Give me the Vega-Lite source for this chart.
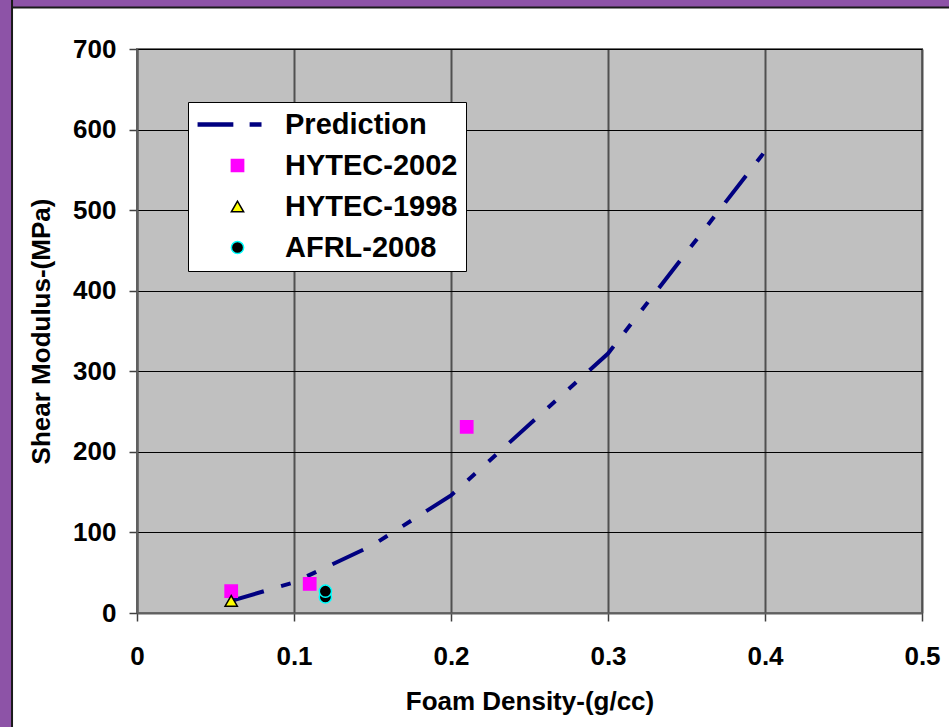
{
  "$schema": "https://vega.github.io/schema/vega-lite/v6.json",
  "width": 785,
  "height": 564,
  "autosize": {"type": "none"},
  "padding": {"left": 137, "top": 49, "right": 27, "bottom": 114},
  "background": "#FFFFFF",
  "datasets": {
    "pred": [
      {"density": 0.06, "modulus": 15, "series": "Prediction"},
      {"density": 0.1, "modulus": 38, "series": "Prediction"},
      {"density": 0.15, "modulus": 84, "series": "Prediction"},
      {"density": 0.2, "modulus": 146, "series": "Prediction"},
      {"density": 0.3, "modulus": 322, "series": "Prediction"},
      {"density": 0.4, "modulus": 573, "series": "Prediction"}
    ],
    "obs": [
      {"density": 0.06, "modulus": 27, "series": "HYTEC-2002"},
      {"density": 0.11, "modulus": 36, "series": "HYTEC-2002"},
      {"density": 0.21, "modulus": 231, "series": "HYTEC-2002"},
      {"density": 0.06, "modulus": 15, "series": "HYTEC-1998"},
      {"density": 0.12, "modulus": 20, "series": "AFRL-2008"},
      {"density": 0.12, "modulus": 27, "series": "AFRL-2008"}
    ]
  },
  "config": {
    "font": "Liberation Sans",
    "view": {"fill": "#C0C0C0", "stroke": "#707070", "strokeWidth": 2},
    "axis": {
      "labelFont": "Liberation Sans",
      "labelFontSize": 26,
      "labelFontWeight": "bold",
      "labelColor": "#000000",
      "titleFont": "Liberation Sans",
      "titleFontSize": 26,
      "titleFontWeight": "bold",
      "titleColor": "#000000",
      "domainColor": "#606060",
      "domainWidth": 2,
      "tickColor": "#404040",
      "tickWidth": 1.5,
      "tickSize": 8
    },
    "legend": {
      "orient": "none",
      "legendX": 51,
      "legendY": 53,
      "fillColor": "#FFFFFF",
      "strokeColor": "#000000",
      "padding": 8,
      "labelFont": "Liberation Sans",
      "labelFontSize": 29,
      "labelFontWeight": "bold",
      "labelColor": "#000000",
      "labelLimit": 400,
      "rowPadding": 11,
      "symbolOffset": 27,
      "labelOffset": 33,
      "symbolStrokeWidth": 1.5
    }
  },
  "layer": [
    {
      "data": {"name": "pred"},
      "mark": {"type": "line", "strokeWidth": 4, "strokeDash": [34, 18, 10, 18, 10, 18], "strokeCap": "butt"},
      "encoding": {
        "x": {
          "field": "density", "type": "quantitative",
          "scale": {"domain": [0, 0.5], "nice": false, "zero": false},
          "axis": {"title": "Foam Density-(g/cc)", "values": [0, 0.1, 0.2, 0.3, 0.4, 0.5], "format": "~g", "grid": true, "gridColor": "#505050", "gridWidth": 2, "labelPadding": 22, "titlePadding": 19, "labelFlush": false}
        },
        "y": {
          "field": "modulus", "type": "quantitative",
          "scale": {"domain": [0, 700], "nice": false, "zero": false},
          "axis": {"title": "Shear Modulus-(MPa)", "values": [0, 100, 200, 300, 400, 500, 600, 700], "format": "d", "grid": true, "gridColor": "#000000", "gridWidth": 1, "labelPadding": 13, "titlePadding": 18}
        },
        "stroke": {
          "field": "series", "type": "nominal",
          "scale": {"domain": ["Prediction", "HYTEC-2002", "HYTEC-1998", "AFRL-2008"], "range": ["#000080", "#FF00FF", "#000000", "#00FFFF"]},
          "legend": {"title": null, "encode": {"symbols": {"update": {"strokeDash": {"value": []}, "strokeWidth": {"value": 1.5}, "opacity": {"value": 1}}}}}
        }
      }
    },
    {
      "data": {"name": "obs"},
      "mark": {"type": "point", "filled": true, "opacity": 1, "strokeWidth": 1.5},
      "encoding": {
        "x": {
          "field": "density", "type": "quantitative",
          "scale": {"domain": [0, 0.5], "nice": false, "zero": false},
          "axis": {"title": "Foam Density-(g/cc)", "values": [0, 0.1, 0.2, 0.3, 0.4, 0.5], "format": "~g", "grid": true, "gridColor": "#505050", "gridWidth": 2, "labelPadding": 22, "titlePadding": 19, "labelFlush": false}
        },
        "y": {
          "field": "modulus", "type": "quantitative",
          "scale": {"domain": [0, 700], "nice": false, "zero": false},
          "axis": {"title": "Shear Modulus-(MPa)", "values": [0, 100, 200, 300, 400, 500, 600, 700], "format": "d", "grid": true, "gridColor": "#000000", "gridWidth": 1, "labelPadding": 13, "titlePadding": 18}
        },
        "fill": {
          "field": "series", "type": "nominal",
          "scale": {"domain": ["Prediction", "HYTEC-2002", "HYTEC-1998", "AFRL-2008"], "range": ["#000080", "#FF00FF", "#FFFF00", "#000000"]},
          "legend": {"title": null}
        },
        "stroke": {
          "field": "series", "type": "nominal",
          "scale": {"domain": ["Prediction", "HYTEC-2002", "HYTEC-1998", "AFRL-2008"], "range": ["#000080", "#FF00FF", "#000000", "#00FFFF"]},
          "legend": {"title": null, "encode": {"symbols": {"update": {"strokeDash": {"value": []}, "strokeWidth": {"value": 1.5}, "opacity": {"value": 1}}}}}
        },
        "shape": {
          "field": "series", "type": "nominal",
          "scale": {"domain": ["Prediction", "HYTEC-2002", "HYTEC-1998", "AFRL-2008"], "range": ["M-6.4,-0.25H-0.8V0.25H-6.4Z M2.1,-0.25H3.8V0.25H2.1Z", "square", "triangle-up", "circle"]},
          "legend": {"title": null}
        },
        "size": {
          "field": "series", "type": "nominal",
          "scale": {"domain": ["Prediction", "HYTEC-2002", "HYTEC-1998", "AFRL-2008"], "range": [150, 150, 170, 80]},
          "legend": {"title": null}
        }
      }
    },
    {
      "data": {"values": [{}]},
      "mark": {"type": "rect", "fill": "#8D53A7", "stroke": "#1A1A1A", "strokeWidth": 2, "clip": false},
      "encoding": {
        "x": {"datum": -0.3, "type": "quantitative", "scale": {"domain": [0, 0.5], "nice": false, "zero": false}, "axis": {"title": "Foam Density-(g/cc)", "values": [0, 0.1, 0.2, 0.3, 0.4, 0.5], "format": "~g", "grid": true, "gridColor": "#505050", "gridWidth": 2, "labelPadding": 22, "titlePadding": 19, "labelFlush": false}},
        "x2": {"datum": 0.8},
        "y": {"datum": 751.5, "type": "quantitative", "scale": {"domain": [0, 700], "nice": false, "zero": false}, "axis": {"title": "Shear Modulus-(MPa)", "values": [0, 100, 200, 300, 400, 500, 600, 700], "format": "d", "grid": true, "gridColor": "#000000", "gridWidth": 1, "labelPadding": 13, "titlePadding": 18}},
        "y2": {"datum": 1100}
      }
    },
    {
      "data": {"values": [{}]},
      "mark": {"type": "rect", "fill": "#8D53A7", "stroke": "#1A1A1A", "strokeWidth": 2, "clip": false},
      "encoding": {
        "x": {"datum": -0.5, "type": "quantitative", "scale": {"domain": [0, 0.5], "nice": false, "zero": false}, "axis": {"title": "Foam Density-(g/cc)", "values": [0, 0.1, 0.2, 0.3, 0.4, 0.5], "format": "~g", "grid": true, "gridColor": "#505050", "gridWidth": 2, "labelPadding": 22, "titlePadding": 19, "labelFlush": false}},
        "x2": {"datum": -0.0796},
        "y": {"datum": -400, "type": "quantitative", "scale": {"domain": [0, 700], "nice": false, "zero": false}, "axis": {"title": "Shear Modulus-(MPa)", "values": [0, 100, 200, 300, 400, 500, 600, 700], "format": "d", "grid": true, "gridColor": "#000000", "gridWidth": 1, "labelPadding": 13, "titlePadding": 18}},
        "y2": {"datum": 1100}
      }
    }
  ]
}
